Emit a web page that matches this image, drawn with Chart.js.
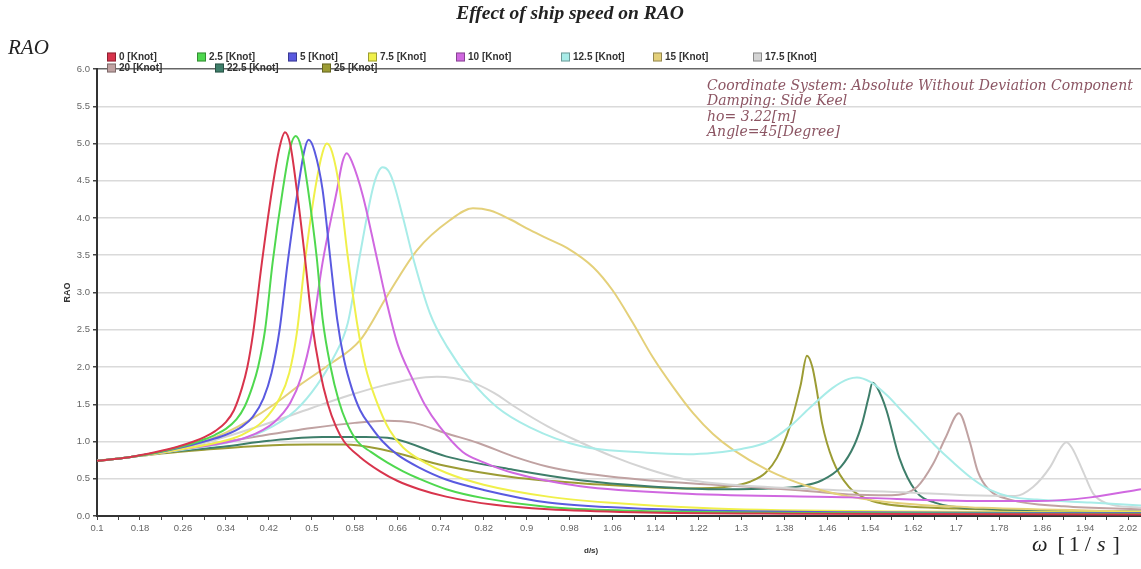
<!DOCTYPE html>
<html>
<head>
<meta charset="utf-8">
<script src="https://cdn.jsdelivr.net/npm/chart.js@4.4.1/dist/chart.umd.min.js"></script>
<style>
  html, body { margin: 0; padding: 0; background: #fff; }
  canvas { display: block; }
</style>
</head>
<body>
<canvas id="raoChart" width="1141" height="569"></canvas>
<script>
// speeds shown in the legend
const speeds = ['0', '2.5', '5', '7.5', '10', '12.5', '15', '17.5', '20', '22.5', '25'];
const colors = ['#d8344c', '#4fd84f', '#5a5ae0', '#f0f04a', '#d068e0', '#a8ece8',
                '#e4d07a', '#d4d4d4', '#c0a2a2', '#3e7e6a', '#9c9c34'];

// x tick values (frequency), labelled every 0.08
const xTicks = [];
for (let i = 0; i <= 48; i++) xTicks.push(+(0.1 + i * 0.04).toFixed(2));

// RAO curves: [frequency, RAO]
const kn0 = [[0.10,0.74],[0.16,0.79],[0.21,0.86],[0.25,0.93],[0.28,1.0],[0.30,1.06],[0.32,1.14],[0.34,1.26],[0.355,1.42],[0.37,1.72],[0.38,2.0],[0.39,2.42],[0.407,3.4],[0.426,4.38],[0.44,4.95],[0.45,5.15],[0.46,4.98],[0.472,4.38],[0.487,3.48],[0.50,2.62],[0.515,1.95],[0.53,1.5],[0.545,1.2],[0.56,1.0],[0.59,0.79],[0.627,0.6],[0.66,0.47],[0.70,0.36],[0.75,0.26],[0.84,0.15],[0.94,0.09],[1.1,0.05],[1.4,0.03],[2.044,0.02]];
const kn2_5 = [[0.10,0.74],[0.16,0.79],[0.21,0.85],[0.25,0.92],[0.28,0.98],[0.30,1.03],[0.32,1.09],[0.34,1.17],[0.36,1.3],[0.375,1.47],[0.39,1.75],[0.40,2.0],[0.413,2.5],[0.427,3.4],[0.446,4.38],[0.46,4.95],[0.47,5.1],[0.48,4.95],[0.493,4.38],[0.509,3.48],[0.52,2.65],[0.535,2.0],[0.55,1.55],[0.565,1.25],[0.585,1.0],[0.61,0.86],[0.64,0.72],[0.67,0.6],[0.70,0.5],[0.75,0.36],[0.82,0.24],[0.94,0.12],[1.1,0.07],[1.4,0.04],[2.044,0.03]];
const kn5 = [[0.10,0.74],[0.16,0.79],[0.21,0.85],[0.25,0.91],[0.30,1.0],[0.34,1.09],[0.37,1.2],[0.39,1.33],[0.41,1.58],[0.425,1.92],[0.44,2.5],[0.455,3.4],[0.474,4.38],[0.486,4.9],[0.494,5.05],[0.505,4.9],[0.52,4.38],[0.534,3.48],[0.547,2.65],[0.56,2.1],[0.575,1.7],[0.59,1.42],[0.61,1.2],[0.632,1.0],[0.66,0.82],[0.70,0.65],[0.75,0.49],[0.82,0.35],[0.94,0.18],[1.05,0.12],[1.19,0.08],[1.5,0.05],[2.044,0.04]];
const kn7_5 = [[0.10,0.74],[0.16,0.79],[0.21,0.84],[0.26,0.9],[0.32,0.98],[0.37,1.09],[0.41,1.28],[0.44,1.58],[0.458,1.92],[0.472,2.45],[0.487,3.4],[0.506,4.38],[0.52,4.88],[0.528,5.0],[0.538,4.88],[0.552,4.38],[0.567,3.48],[0.584,2.6],[0.60,2.0],[0.62,1.55],[0.645,1.15],[0.67,0.92],[0.71,0.72],[0.75,0.58],[0.82,0.42],[0.94,0.26],[1.05,0.18],[1.25,0.1],[1.6,0.06],[2.044,0.05]];
const kn10 = [[0.10,0.74],[0.16,0.79],[0.21,0.84],[0.26,0.9],[0.32,0.96],[0.38,1.06],[0.43,1.26],[0.46,1.52],[0.48,1.86],[0.50,2.45],[0.52,3.4],[0.547,4.38],[0.557,4.75],[0.565,4.87],[0.575,4.75],[0.595,4.3],[0.62,3.5],[0.64,2.85],[0.66,2.3],[0.688,1.83],[0.71,1.5],[0.738,1.2],[0.781,0.86],[0.82,0.72],[0.874,0.58],[1.0,0.4],[1.2,0.3],[1.5,0.25],[1.75,0.2],[1.85,0.2],[1.95,0.25],[2.044,0.36]];
const kn12_5 = [[0.10,0.74],[0.16,0.79],[0.21,0.84],[0.27,0.9],[0.34,0.98],[0.41,1.14],[0.47,1.42],[0.51,1.76],[0.54,2.12],[0.567,2.59],[0.589,3.48],[0.613,4.38],[0.624,4.62],[0.632,4.68],[0.642,4.64],[0.651,4.5],[0.67,4.0],[0.688,3.48],[0.72,2.72],[0.752,2.27],[0.795,1.83],[0.845,1.46],[0.906,1.19],[1.0,0.94],[1.124,0.85],[1.2,0.83],[1.25,0.85],[1.3,0.9],[1.347,0.99],[1.39,1.2],[1.427,1.45],[1.47,1.72],[1.5,1.84],[1.515,1.86],[1.54,1.8],[1.571,1.62],[1.6,1.4],[1.627,1.2],[1.66,0.95],[1.694,0.72],[1.73,0.5],[1.763,0.35],[1.80,0.26],[1.85,0.22],[1.95,0.18],[2.044,0.14]];
const kn15 = [[0.10,0.74],[0.16,0.79],[0.22,0.86],[0.29,0.98],[0.34,1.12],[0.385,1.29],[0.43,1.5],[0.478,1.76],[0.53,2.02],[0.59,2.36],[0.64,2.95],[0.696,3.57],[0.757,3.97],[0.80,4.13],[0.832,4.1],[0.87,3.98],[0.906,3.84],[0.94,3.72],[0.975,3.6],[1.024,3.34],[1.06,3.03],[1.098,2.59],[1.135,2.13],[1.173,1.73],[1.21,1.38],[1.247,1.1],[1.284,0.89],[1.348,0.62],[1.428,0.39],[1.502,0.26],[1.595,0.17],[1.75,0.11],[2.044,0.06]];
const kn17_5 = [[0.10,0.74],[0.16,0.79],[0.22,0.86],[0.3,0.98],[0.4,1.2],[0.5,1.45],[0.57,1.62],[0.627,1.74],[0.688,1.84],[0.733,1.87],[0.795,1.8],[0.84,1.65],[0.875,1.48],[0.94,1.2],[1.0,0.99],[1.06,0.8],[1.125,0.63],[1.19,0.5],[1.25,0.44],[1.4,0.37],[1.6,0.32],[1.72,0.28],[1.81,0.27],[1.843,0.39],[1.875,0.66],[1.895,0.92],[1.905,0.99],[1.915,0.92],[1.936,0.6],[1.955,0.3],[1.98,0.17],[2.044,0.11]];
const kn20 = [[0.10,0.74],[0.16,0.79],[0.22,0.85],[0.3,0.95],[0.4,1.07],[0.5,1.18],[0.58,1.25],[0.64,1.28],[0.69,1.25],[0.75,1.11],[0.81,0.98],[0.875,0.8],[0.94,0.66],[1.0,0.58],[1.125,0.48],[1.25,0.42],[1.4,0.35],[1.5,0.29],[1.58,0.28],[1.627,0.39],[1.657,0.7],[1.68,1.05],[1.705,1.38],[1.725,1.0],[1.74,0.6],[1.76,0.36],[1.8,0.22],[1.9,0.13],[2.044,0.09]];
const kn22_5 = [[0.10,0.74],[0.16,0.79],[0.22,0.85],[0.335,0.93],[0.42,1.01],[0.52,1.06],[0.6,1.06],[0.65,1.04],[0.75,0.8],[0.875,0.62],[1.0,0.48],[1.125,0.4],[1.25,0.36],[1.35,0.37],[1.41,0.4],[1.45,0.48],[1.485,0.66],[1.51,0.95],[1.525,1.25],[1.537,1.6],[1.544,1.79],[1.553,1.72],[1.57,1.42],[1.594,0.78],[1.625,0.33],[1.66,0.18],[1.75,0.1],[2.044,0.06]];
const kn25 = [[0.10,0.74],[0.16,0.79],[0.22,0.84],[0.3,0.89],[0.4,0.94],[0.5,0.96],[0.56,0.96],[0.627,0.9],[0.75,0.67],[0.875,0.52],[1.0,0.44],[1.125,0.39],[1.2,0.37],[1.28,0.4],[1.316,0.46],[1.345,0.58],[1.366,0.78],[1.39,1.2],[1.41,1.75],[1.422,2.15],[1.432,2.0],[1.44,1.7],[1.45,1.25],[1.47,0.75],[1.5,0.39],[1.53,0.24],[1.56,0.17],[1.7,0.1],[2.044,0.05]];

const series = [kn0, kn2_5, kn5, kn7_5, kn10, kn12_5, kn15, kn17_5, kn20, kn22_5, kn25];

const noteLines = [
  'Coordinate System: Absolute Without Deviation Component',
  'Damping: Side Keel',
  'ho= 3.22[m]',
  'Angle=45[Degree]'
];

// legend layout (two rows, left aligned like the original)
const legendRows = [[107, 197, 288, 368, 456, 561, 653, 753], [107, 215, 322]];
const legendY = [57, 68];

const datasets = series.map((pts, i) => ({
  label: speeds[i] + ' [Knot]',
  data: pts,
  borderColor: colors[i],
  backgroundColor: colors[i],
  borderWidth: 2,
  pointRadius: 0,
  fill: false,
  cubicInterpolationMode: 'monotone'
}));

const extraText = {
  id: 'extraText',
  afterDraw(chart) {
    const c = chart.ctx;
    c.save();
    c.textBaseline = 'middle';

    c.fillStyle = '#222';
    c.textAlign = 'center';
    c.font = 'italic bold 19.5px "Liberation Serif"';
    c.fillText('Effect of ship speed on RAO', 570, 14);

    c.textAlign = 'left';
    c.font = 'italic 21px "Liberation Serif"';
    c.fillText('RAO', 8, 48);

    // omega label at bottom right, wide spacing like a math font
    let x = 1032;
    const y = 545;
    const parts = [['ω', 'italic', 10], ['[', 'normal', 4], ['1', 'normal', 5], ['/', 'normal', 6], ['s', 'italic', 7], [']', 'normal', 0]];
    parts.forEach(([t, st, gap]) => {
      c.font = st + ' 22px "Liberation Serif"';
      c.fillText(t, x, y);
      x += c.measureText(t).width + gap;
    });

    c.font = 'bold 8px "Liberation Sans"';
    c.fillStyle = '#333';
    c.fillText('d/s)', 584, 551);

    c.fillStyle = '#8c5563';
    c.font = 'italic 14px "DejaVu Serif"';
    noteLines.forEach((t, i) => c.fillText(t, 707, 86 + i * 15.5));

    // legend
    c.font = 'bold 10px "Liberation Sans"';
    let k = 0;
    legendRows.forEach((row, r) => {
      row.forEach(lx => {
        const ds = chart.data.datasets[k++];
        const ly = legendY[r];
        c.fillStyle = ds.borderColor;
        c.fillRect(lx, ly - 4.5, 9, 9);
        c.strokeStyle = 'rgba(0,0,0,0.35)';
        c.lineWidth = 1;
        c.strokeRect(lx + 0.5, ly - 4, 8, 8);
        c.fillStyle = '#333';
        c.fillText(ds.label, lx + 12, ly + 0.5);
      });
    });
    c.restore();
  }
};

new Chart(document.getElementById('raoChart'), {
  type: 'line',
  data: { datasets },
  options: {
    responsive: false,
    animation: false,
    layout: { padding: { top: 69, left: 0, right: 0, bottom: 0 } },
    plugins: {
      legend: { display: false },
      title: { display: false },
      tooltip: { enabled: false }
    },
    scales: {
      x: {
        type: 'linear',
        min: 0.1,
        max: 2.044,
        afterBuildTicks: s => { s.ticks = xTicks.map(v => ({ value: v })); },
        afterFit: s => { s.height = 53; },
        ticks: {
          autoSkip: false,
          maxRotation: 0,
          padding: 3,
          color: '#666',
          font: { family: 'Liberation Sans', size: 9.5 },
          callback: (v, i) => (i % 2 === 0 ? String(+v.toFixed(2)) : '')
        },
        grid: { drawOnChartArea: false, tickLength: 4, tickColor: '#444' },
        border: { color: '#333', width: 2 }
      },
      y: {
        min: 0,
        max: 6,
        afterFit: s => { s.width = 97; },
        ticks: {
          stepSize: 0.5,
          padding: 3,
          color: '#666',
          font: { family: 'Liberation Sans', size: 9.5 },
          callback: v => v.toFixed(1)
        },
        grid: {
          color: ctx => (ctx.tick && ctx.tick.value === 6 ? '#666' : '#dadada'),
          lineWidth: 1.5,
          tickLength: 4,
          tickColor: '#444'
        },
        border: { color: '#333', width: 2 },
        title: {
          display: true,
          text: 'RAO',
          color: '#333',
          font: { family: 'Liberation Sans', size: 9, weight: 'bold' },
          padding: { top: 62 }
        }
      }
    }
  },
  plugins: [extraText]
});
</script>
</body>
</html>
